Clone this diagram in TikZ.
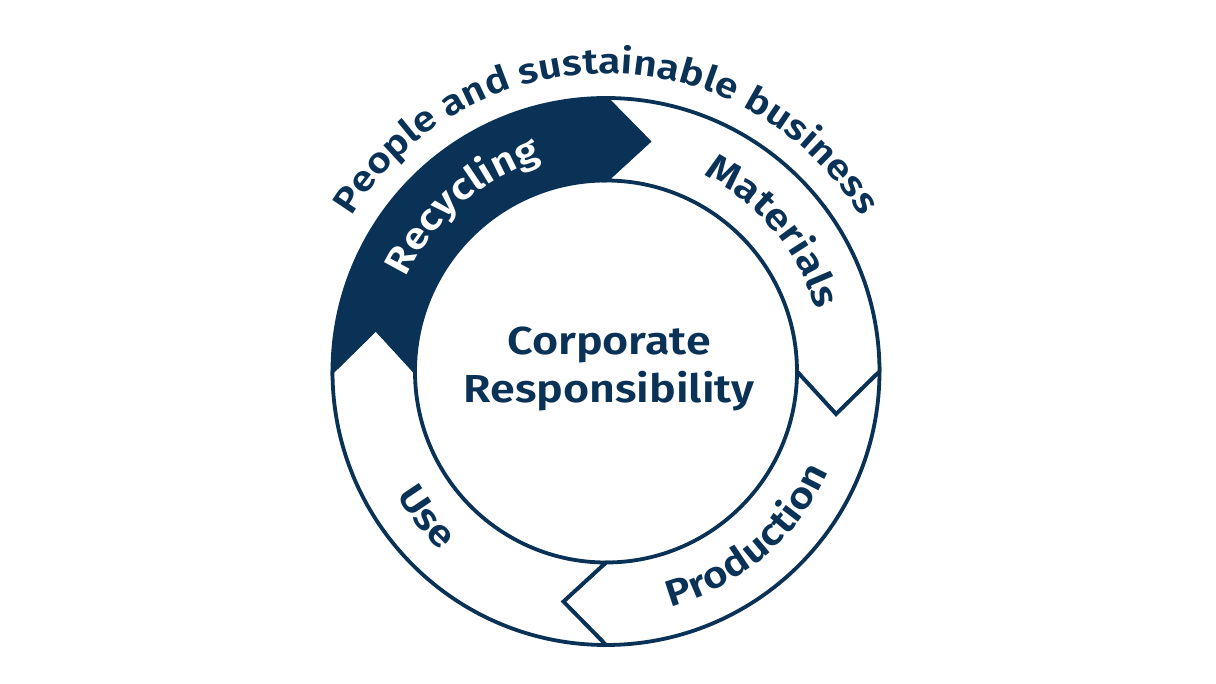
\documentclass[tikz,border=0pt]{standalone}
\usepackage{fontspec}
\setmainfont{Fira Sans}
\newfontfamily\dinfont{Fira Sans SemiBold}[FakeStretch=1.15]
\usetikzlibrary{decorations.text}
\definecolor{navy}{HTML}{0A3257}
\newcommand\ringfont{\dinfont\fontsize{37}{37}\selectfont}
\newcommand\topfont{\dinfont\fontsize{35.5}{35.5}\selectfont}
\begin{document}
\begin{tikzpicture}[x=1pt,y=1pt,
  seg/.style={draw=navy, line width=3.8pt, line join=miter, fill=white},
  segdark/.style={seg, fill=navy},
  coretext/.style={text=navy, font=\dinfont\fontsize{39}{39}\selectfont, anchor=base, inner sep=0pt},
  ringlabel/.style={decorate, decoration={text along path, text align=center, text color=#1}},
  ringlabel/.default=navy]
\useasboundingbox (-606,-312.5) rectangle (610,371.5);
\fill[white] (-606,-312.5) rectangle (610,371.5);
% Materials
\path[seg] (90:273.5pt) arc[start angle=90,end angle=0,radius=273.5pt] -- (-10.5:234pt) -- (0:191pt)
  arc[start angle=0,end angle=90,radius=191pt] -- (79.5:234pt) -- cycle;
% Production
\path[seg] (0:273.5pt) arc[start angle=0,end angle=-90,radius=273.5pt] -- (-100.5:234pt) -- (-90:191pt)
  arc[start angle=-90,end angle=0,radius=191pt] -- (-10.5:234pt) -- cycle;
% Use
\path[seg] (-90:273.5pt) arc[start angle=-90,end angle=-180,radius=273.5pt] -- (169.5:234pt) -- (180:191pt)
  arc[start angle=-180,end angle=-90,radius=191pt] -- (-100.5:234pt) -- cycle;
% Recycling
\path[segdark] (180:273.5pt) arc[start angle=180,end angle=90,radius=273.5pt] -- (79.5:234pt) -- (90:191pt)
  arc[start angle=90,end angle=180,radius=191pt] -- (169.5:234pt) -- cycle;
% labels along the ring
\path[ringlabel=white, decoration={text={|\ringfont|Recycling}}]
  (201:221pt) arc[start angle=201,end angle=61,radius=221pt];
\path[ringlabel, decoration={text={|\ringfont|Materials}}]
  (110:219pt) arc[start angle=110,end angle=-30,radius=219pt];
\path[ringlabel, decoration={text={|\ringfont|Production}}]
  (-119.5:244pt) arc[start angle=-119.5,end angle=20.5,radius=244pt];
\path[ringlabel, decoration={text={|\ringfont|Use}}]
  (-211:243pt) arc[start angle=-211,end angle=-71,radius=243pt];
% outer text
\path[ringlabel, decoration={text={|\topfont|People and sustainable business}}]
  (180:298pt) arc[start angle=180,end angle=0,radius=298pt];
% centre
\node[coretext] (corp) at (3,17.2) {Corporate};
\node[coretext] (resp) at (3,-30.8) {Responsibility};
\end{tikzpicture}
\end{document}
